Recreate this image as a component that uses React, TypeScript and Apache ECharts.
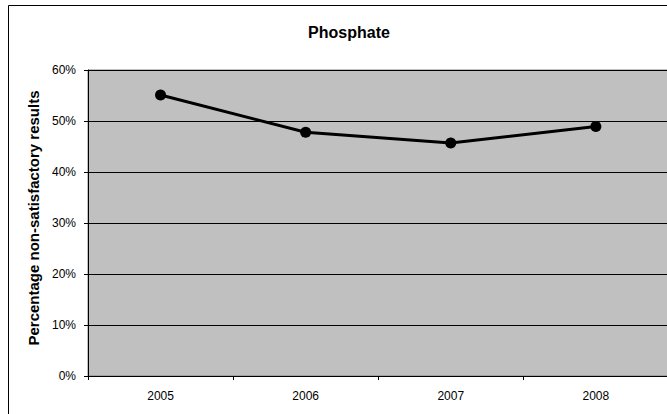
import React, { useEffect, useRef } from "react";
import * as echarts from "echarts";

const years = ["2005", "2006", "2007", "2008"];
const nonSatisfactory = [0.551, 0.478, 0.457, 0.489];
const titleText = "Phosphate";
const yAxisName = "Percentage non-satisfactory results";

export default function App() {
  const ref = useRef<HTMLDivElement>(null);
  useEffect(() => {
    if (!ref.current) return;
    const chart = echarts.init(ref.current, null, { renderer: "svg" });
    const font = "Liberation Sans, Arial, sans-serif";
    chart.setOption({
      animation: false,
      backgroundColor: "#ffffff",
      graphic: [
        {
          type: "rect",
          shape: { x: 8.5, y: 5.5, width: 700, height: 450 },
          style: { fill: "none", stroke: "#000000", lineWidth: 1 },
          silent: true,
          z: -1,
        },
      ],
      title: {
        text: titleText,
        left: 344,
        textAlign: "center",
        top: 19,
        textStyle: { fontFamily: font, fontSize: 16, fontWeight: "bold", color: "#000" },
      },
      grid: {
        left: 88,
        top: 70,
        right: 11.6,
        bottom: 54,
        show: true,
        backgroundColor: "#c0c0c0",
        borderColor: "#808080",
        borderWidth: 1,
      },
      xAxis: {
        type: "category",
        data: years,
        boundaryGap: true,
        axisLine: { show: true, lineStyle: { color: "#000", width: 1 } },
        axisTick: { show: true, length: 4, lineStyle: { color: "#000" } },
        axisLabel: { fontFamily: font, fontSize: 12, color: "#000", margin: 14 },
        splitLine: { show: false },
      },
      yAxis: {
        type: "value",
        min: 0,
        max: 0.6,
        interval: 0.1,
        name: yAxisName,
        nameLocation: "middle",
        nameGap: 39,
        nameTextStyle: {
          fontFamily: font,
          fontSize: 15,
          fontWeight: "bold",
          color: "#000",
          padding: [0, 0, 0, 10],
        },
        axisLine: { show: true, lineStyle: { color: "#000", width: 1 } },
        axisTick: { show: true, length: 4, lineStyle: { color: "#000" } },
        axisLabel: {
          fontFamily: font,
          fontSize: 12,
          color: "#000",
          margin: 12,
          formatter: (v: number) => Math.round(v * 100) + "%",
        },
        splitLine: { show: true, lineStyle: { color: "#000", width: 1 } },
      },
      series: [
        {
          type: "line",
          data: nonSatisfactory,
          symbol: "circle",
          symbolSize: 11,
          lineStyle: { color: "#000", width: 3 },
          itemStyle: { color: "#000" },
        },
      ],
    });
    return () => chart.dispose();
  }, []);
  return (
    <div style={{ position: "fixed", left: 0, top: 0, width: 667, height: 414, overflow: "hidden", background: "#fff" }}>
      <div ref={ref} style={{ width: 680, height: 430 }} />
    </div>
  );
}
